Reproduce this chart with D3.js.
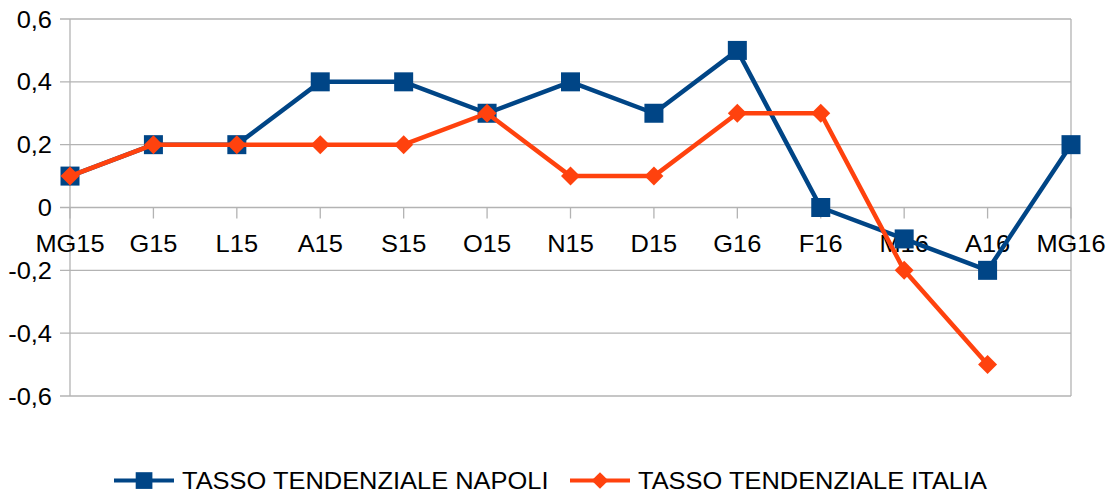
<!DOCTYPE html>
<html>
<head>
<meta charset="utf-8">
<script src="https://cdn.jsdelivr.net/npm/d3@7"></script>
<style>
  body { margin: 0; background: #fff; }
  text { font-family: "Liberation Sans", Arial, sans-serif; fill: #000; }
</style>
</head>
<body>
<svg id="chart" width="1111" height="498"></svg>
<script>
// data
const categories = ["MG15", "G15", "L15", "A15", "S15", "O15", "N15", "D15", "G16", "F16", "M16", "A16", "MG16"];
const napoli = [0.1, 0.2, 0.2, 0.4, 0.4, 0.3, 0.4, 0.3, 0.5, 0, -0.1, -0.2, 0.2];
const italia = [0.1, 0.2, 0.2, 0.2, 0.2, 0.3, 0.1, 0.1, 0.3, 0.3, -0.2, -0.5, null];
const yTicks = [-0.6, -0.4, -0.2, 0, 0.2, 0.4, 0.6];
const seriesNames = ["TASSO TENDENZIALE NAPOLI", "TASSO TENDENZIALE ITALIA"];

const colors = ["#004586", "#ff420e"];
const plotLeft = 70, plotRight = 1071, plotTop = 19, plotBottom = 396;
const stretch = 1.06;   // reference text is slightly wide

const svg = d3.select("#chart");

const x = d3.scalePoint().domain(categories).range([plotLeft, plotRight]);
const y = d3.scaleLinear().domain([-0.6, 0.6]).range([plotBottom, plotTop]);
const fmt = d => d === 0 ? "0" : d3.format(".1f")(d).replace(".", ",").replace("−", "-");

// horizontal grid + y labels
const yAxis = svg.append("g");
yAxis.selectAll("line").data(yTicks).enter().append("line")
  .attr("x1", plotLeft - 10).attr("x2", plotRight)
  .attr("y1", d => y(d)).attr("y2", d => y(d))
  .attr("stroke", "#b3b3b3").attr("stroke-width", 1.3);
yAxis.selectAll("text").data(yTicks).enter().append("text")
  .attr("transform", d => `translate(52,${y(d) + 8.5}) scale(${stretch},1)`)
  .attr("text-anchor", "end").attr("font-size", 24)
  .text(fmt);

// plot border left/right
[plotLeft, plotRight].forEach(px => {
  svg.append("line").attr("x1", px).attr("x2", px).attr("y1", plotTop).attr("y2", plotBottom)
    .attr("stroke", "#b3b3b3").attr("stroke-width", 1.3);
});

// x ticks on zero line
const xAxis = svg.append("g");
xAxis.selectAll("line").data(categories).enter().append("line")
  .attr("x1", d => x(d)).attr("x2", d => x(d))
  .attr("y1", y(0)).attr("y2", y(0) + 11)
  .attr("stroke", "#b3b3b3").attr("stroke-width", 1.3);
xAxis.selectAll("text").data(categories).enter().append("text")
  .attr("transform", d => `translate(${x(d)},${y(0) + 44}) scale(${stretch},1)`)
  .attr("text-anchor", "middle").attr("font-size", 24)
  .text(d => d);

const line = d3.line()
  .x(d => x(d.c)).y(d => y(d.v));

const diamond = d3.symbol().type(d3.symbolSquare).size(180);

[napoli, italia].forEach((vals, i) => {
  const pts = categories.map((c, j) => ({ c: c, v: vals[j] })).filter(d => d.v !== null);
  svg.append("path").datum(pts)
    .attr("d", line)
    .attr("fill", "none").attr("stroke", colors[i])
    .attr("stroke-width", 4.5).attr("stroke-linejoin", "round");
  const g = svg.append("g");
  if (i === 0) {
    g.selectAll("rect").data(pts).enter().append("rect")
      .attr("x", d => x(d.c) - 9.5).attr("y", d => y(d.v) - 9.5)
      .attr("width", 19).attr("height", 19).attr("fill", colors[i]);
  } else {
    g.selectAll("path").data(pts).enter().append("path")
      .attr("d", diamond)
      .attr("transform", d => `translate(${x(d.c)},${y(d.v)}) rotate(45)`)
      .attr("fill", colors[i]);
  }
});

// legend
const legend = svg.append("g");
const legendX = [114, 570];
seriesNames.forEach((name, i) => {
  const lg = legend.append("g").attr("transform", `translate(${legendX[i]},480.5)`);
  lg.append("line").attr("x1", 0).attr("x2", 60).attr("y1", 0).attr("y2", 0)
    .attr("stroke", colors[i]).attr("stroke-width", 4);
  if (i === 0) {
    lg.append("rect").attr("x", 21.7).attr("y", -8.3).attr("width", 16.7).attr("height", 16.7).attr("fill", colors[i]);
  } else {
    lg.append("path").attr("d", d3.symbol().type(d3.symbolSquare).size(140))
      .attr("transform", "translate(30,0) rotate(45)").attr("fill", colors[i]);
  }
  lg.append("text")
    .attr("transform", `translate(68,8.5) scale(${stretch},1)`)
    .attr("font-size", 24).text(name);
});
</script>
</body>
</html>
